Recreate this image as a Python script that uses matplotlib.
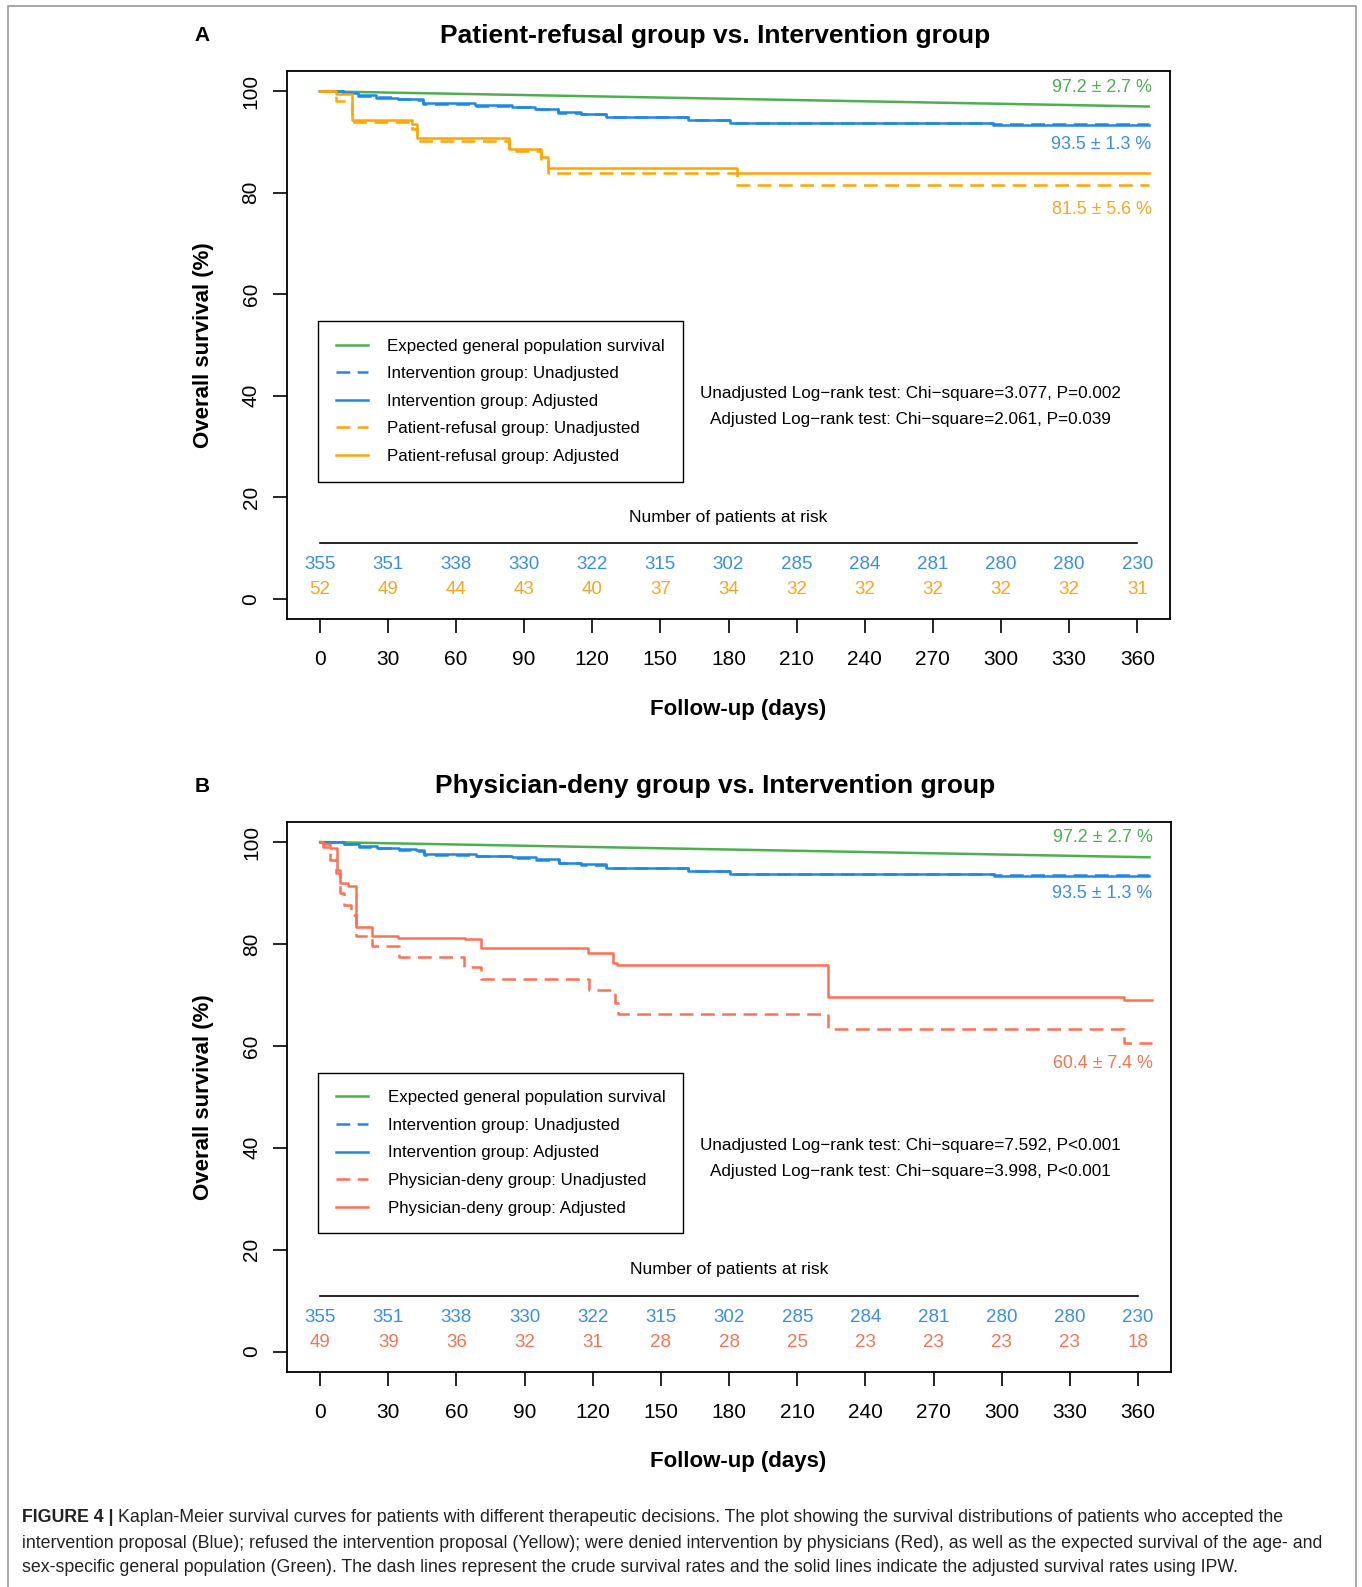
import matplotlib
matplotlib.use('Agg')
import matplotlib.pyplot as plt
from matplotlib.lines import Line2D
from matplotlib.patches import Rectangle

plt.rcParams['font.family'] = ['Liberation Sans', 'DejaVu Sans']

# ---- data ----
expected_days = [0, 365]
expected_surv = [100, 97.0]

interv_days = [0, 10.4, 17, 25, 34.5, 42, 45.6, 68.4, 84.5, 94.8, 105, 115, 126, 162, 180.5, 296.5, 365]
interv_adj = [100, 99.67, 99.2, 98.75, 98.55, 98.4, 97.6, 97.25, 97.0, 96.6, 95.9, 95.6, 94.9, 94.4, 93.8, 93.4, 93.4]
interv_unadj = [100, 99.6, 99.1, 98.8, 98.5, 98.3, 97.5, 97.2, 96.9, 96.5, 95.8, 95.5, 94.9, 94.3, 93.8, 93.5, 93.5]

refusal_days = [0, 7, 14.4, 40.7, 42.8, 83.5, 97.4, 100.7, 183.7, 365]
refusal_adj = [100, 99.4, 94.3, 93.6, 90.7, 88.6, 87.1, 84.9, 83.9, 83.9]
refusal_unadj = [100, 98.1, 94.0, 92.5, 90.2, 88.2, 86.5, 83.9, 81.5, 81.5]

deny_adj_days = [0, 1.4, 4.3, 7.3, 8.7, 12.4, 15.6, 22.7, 34.4, 63.7, 70.8, 118, 129, 130.5, 223.7, 354, 366]
deny_adj = [100, 99.7, 98.9, 94.6, 91.9, 91.3, 83.3, 81.6, 81.2, 81.0, 79.2, 78.2, 76.3, 75.9, 69.5, 68.9, 68.9]
deny_unadj_days = [0, 1.4, 4.3, 6.8, 8.7, 10.5, 13.5, 15.6, 22.7, 34.7, 63.5, 70.8, 118.3, 129.8, 131.2, 223.7, 353.6, 366]
deny_unadj = [100, 99.0, 96.5, 93.9, 90.0, 87.7, 85.7, 81.6, 79.6, 77.5, 75.5, 73.2, 71.0, 68.5, 66.2, 63.4, 60.5, 60.5]

risk_days = [0, 30, 60, 90, 120, 150, 180, 210, 240, 270, 300, 330, 360]
risk_interv = [355, 351, 338, 330, 322, 315, 302, 285, 284, 281, 280, 280, 230]
risk_refusal = [52, 49, 44, 43, 40, 37, 34, 32, 32, 32, 32, 32, 31]
risk_deny = [49, 39, 36, 32, 31, 28, 28, 25, 23, 23, 23, 23, 18]

GREEN = '#4CAF50'
BLUE = '#1E88E5'
ORANGE = '#FFA500'
RED = '#FF7052'
BLUE_T = '#3A8EE6'
GREEN_T = '#4CAF50'
ORANGE_T = '#F7A623'
RED_T = '#F47454'

W, H = 1362, 1587
fig = plt.figure(figsize=(W / 100, H / 100), dpi=100)


def fx(px):
    return px / W


def fy(py):
    return 1 - py / H


DASH = (0, (5.5, 3))
LW = 1.8


def panel(ax, g_days, g_adj, g_unadj_days, g_unadj, col, col_t, g_name, risk_g,
          pct_labels, logrank):
    ax.plot(expected_days, expected_surv, color=GREEN, lw=LW)
    ax.step(interv_days, interv_unadj, where='post', color=BLUE, lw=LW, ls=DASH)
    ax.step(interv_days, interv_adj, where='post', color=BLUE, lw=LW)
    ax.step(g_unadj_days, g_unadj, where='post', color=col, lw=LW, ls=DASH)
    ax.step(g_days, g_adj, where='post', color=col, lw=LW)

    ax.set_xlim(-14.4, 374.4)
    ax.set_ylim(-4, 104)
    ax.set_xticks(risk_days)
    ax.set_yticks([0, 20, 40, 60, 80, 100])
    ax.tick_params(axis='both', direction='out', length=10, width=1.2, labelsize=15, pad=9)
    ax.tick_params(axis='x', pad=12)
    for lab in ax.get_yticklabels():
        lab.set_rotation(90)
        lab.set_va('center')
    for s in ax.spines.values():
        s.set_linewidth(1.3)

    for (txt, y, c) in pct_labels:
        ax.text(366.3, y, txt, color=c, ha='right', va='center', fontsize=12.9)

    ax.text(260, 40.4, logrank[0], ha='center', va='center', fontsize=12.3)
    ax.text(260, 35.4, logrank[1], ha='center', va='center', fontsize=12.3)

    ax.text(180, 16.1, 'Number of patients at risk', ha='center', va='center', fontsize=12.5)
    ax.plot([0, 360], [11, 11], color='black', lw=1.2)
    for d, a, b in zip(risk_days, risk_interv, risk_g):
        ax.text(d, 6.75, str(a), color=BLUE_T, ha='center', va='center', fontsize=13.5)
        ax.text(d, 1.8, str(b), color=col_t, ha='center', va='center', fontsize=13.5)

    handles = [
        Line2D([], [], color=GREEN, lw=LW),
        Line2D([], [], color=BLUE, lw=LW, ls=DASH),
        Line2D([], [], color=BLUE, lw=LW),
        Line2D([], [], color=col, lw=LW, ls=DASH),
        Line2D([], [], color=col, lw=LW),
    ]
    labels = ['Expected general population survival',
              'Intervention group: Unadjusted',
              'Intervention group: Adjusted',
              g_name + ': Unadjusted',
              g_name + ': Adjusted']
    leg = ax.legend(handles, labels, loc='upper left', bbox_to_anchor=(0.035, 0.544),
                    borderaxespad=0, frameon=True, fancybox=False, edgecolor='black',
                    framealpha=1, fontsize=12.2, handlelength=1.9, handletextpad=1.15,
                    labelspacing=0.74, borderpad=1.05)
    leg.get_frame().set_linewidth(1.0)


ax1 = fig.add_axes([fx(287), fy(619), (1170 - 287) / W, (619 - 71) / H])
panel(ax1, refusal_days, refusal_adj, refusal_days, refusal_unadj, ORANGE, ORANGE_T,
      'Patient-refusal group', risk_refusal,
      [('97.2 \u00b1 2.7 %', 100.8, GREEN_T), ('93.5 \u00b1 1.3 %', 89.6, BLUE_T),
       ('81.5 \u00b1 5.6 %', 76.7, ORANGE_T)],
      ['Unadjusted Log\u2212rank test: Chi\u2212square=3.077, P=0.002',
       'Adjusted Log\u2212rank test: Chi\u2212square=2.061, P=0.039'])

ax2 = fig.add_axes([fx(287.4), fy(1372), (1170.8 - 287.4) / W, (1372 - 821.6) / H])
panel(ax2, deny_adj_days, deny_adj, deny_unadj_days, deny_unadj, RED, RED_T,
      'Physician-deny group', risk_deny,
      [('97.2 \u00b1 2.7 %', 100.85, GREEN_T), ('93.5 \u00b1 1.3 %', 89.9, BLUE_T),
       ('60.4 \u00b1 7.4 %', 56.5, RED_T)],
      ['Unadjusted Log\u2212rank test: Chi\u2212square=7.592, P<0.001',
       'Adjusted Log\u2212rank test: Chi\u2212square=3.998, P<0.001'])

# titles, panel letters and axis labels
for ty, title, letter in [(35.5, 'Patient-refusal group vs. Intervention group', 'A'),
                          (786, 'Physician-deny group vs. Intervention group', 'B')]:
    fig.text(fx(715), fy(ty), title, ha='center', va='center', fontsize=19, fontweight='bold')
    fig.text(fx(202), fy(ty), letter, ha='center', va='center', fontsize=15, fontweight='bold')

for cy, xy in [(345, 709), (1097, 1461)]:
    fig.text(fx(204), fy(cy), 'Overall survival (%)', rotation=90, ha='center', va='center',
             fontsize=16, fontweight='bold')
    fig.text(fx(738), fy(xy), 'Follow-up (days)', ha='center', va='center',
             fontsize=16, fontweight='bold')

# frame around the figure
fig.patches.append(Rectangle((fx(8), -0.01), fx(1356) - fx(8), fy(6) + 0.01,
                             transform=fig.transFigure, fill=False, edgecolor='#9a9a9a', lw=1.2))

# caption
cap_lines = [
    'Kaplan-Meier survival curves for patients with different therapeutic decisions. The plot showing the survival distributions of patients who accepted the',
    'intervention proposal (Blue); refused the intervention proposal (Yellow); were denied intervention by physicians (Red), as well as the expected survival of the age- and',
    'sex-specific general population (Green). The dash lines represent the crude survival rates and the solid lines indicate the adjusted survival rates using IPW.',
]
cap_y = [1518, 1543, 1568]
cap_fam = ['Liberation Sans', 'DejaVu Sans']
renderer = fig.canvas.get_renderer()
probe = fig.text(0, 0, cap_lines[1], fontsize=12.5, family=cap_fam)
fs = 12.5 * (1328 - 22) / probe.get_window_extent(renderer).width
probe.remove()

bold = fig.text(fx(22), fy(cap_y[0]), 'FIGURE 4 |', ha='left', va='center', fontsize=fs,
                fontweight='bold', family=cap_fam, color='#222222')
bb = bold.get_window_extent(renderer)
fig.text((bb.x1 + 5) / W, fy(cap_y[0]), cap_lines[0], ha='left', va='center',
         fontsize=fs, family=cap_fam, color='#222222')
for line, y in zip(cap_lines[1:], cap_y[1:]):
    fig.text(fx(22), fy(y), line, ha='left', va='center', fontsize=fs, family=cap_fam,
             color='#222222')

fig.savefig('out.png', dpi=100)
